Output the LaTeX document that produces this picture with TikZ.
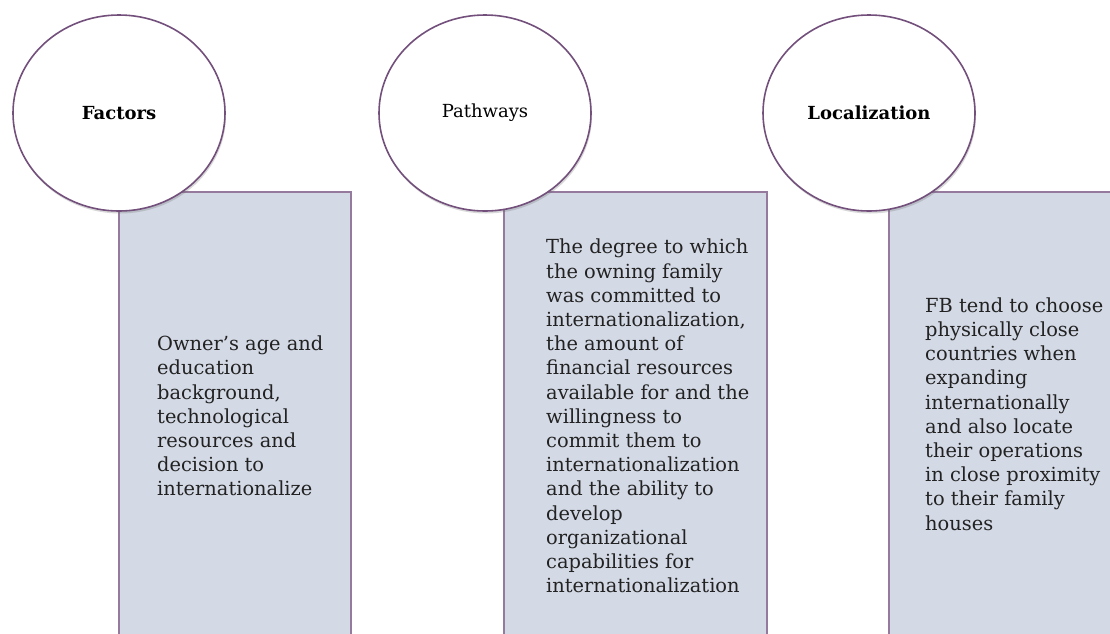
\documentclass[tikz,border=0pt]{standalone}
\usepackage{fontspec}
\setmainfont{DejaVu Serif}
\usetikzlibrary{shapes.geometric,shadows}
\definecolor{rimpurple}{HTML}{73507C}
\definecolor{boxfill}{HTML}{D3D9E5}
\definecolor{boxedge}{HTML}{957A9E}
\definecolor{inktext}{HTML}{222222}
\tikzset{
  panel/.style={draw=boxedge, line width=1.6pt, fill=boxfill, anchor=north west, inner sep=0pt},
  bubble/.style={ellipse, draw=rimpurple, line width=1.6pt, fill=white,
    minimum width=212pt, minimum height=196pt, inner sep=0pt,
    drop shadow={shadow xshift=1pt, shadow yshift=-2.5pt, opacity=0.25, fill=black!60}},
  headbold/.style={font=\fontsize{18}{22}\selectfont\bfseries, text=black},
  headplain/.style={font=\fontsize{18}{22}\selectfont, text=black},
  bodytext/.style={font=\fontsize{19.4}{24.2}\selectfont, text=inktext, align=left, anchor=west, inner sep=0pt}
}
\begin{document}
\begin{tikzpicture}[x=1pt,y=-1pt]
\clip (0,0) rectangle (1110,633);
\fill[white] (0,0) rectangle (1110,633);
% panels
\node[panel, minimum width=232pt, minimum height=460pt] (p1) at (118,191) {};
\node[panel, minimum width=263pt, minimum height=460pt] (p2) at (503,191) {};
\node[panel, minimum width=240pt, minimum height=460pt] (p3) at (888,191) {};
% bubbles
\node[bubble] (c1) at (119,113) {};
\node[bubble] (c2) at (485,113) {};
\node[bubble] (c3) at (869,113) {};
\node[headbold] (h1) at (c1) {Factors};
\node[headplain] (h2) at (c2) {Pathways};
\node[headbold] (h3) at (c3) {Localization};
% texts
\node[bodytext] (t1) at (157,416) {Owner’s age and\\education\\background,\\technological\\resources and\\decision to\\internationalize};
\node[bodytext] (t2) at (546,416) {The degree to which\\the owning family\\was committed to\\internationalization,\\the amount of\\financial resources\\available for and the\\willingness to\\commit them to\\internationalization\\and the ability to\\develop\\organizational\\capabilities for\\internationalization};
\node[bodytext] (t3) at (925,414) {FB tend to choose\\physically close\\countries when\\expanding\\internationally\\and also locate\\their operations\\in close proximity\\to their family\\houses};
\end{tikzpicture}
\end{document}
